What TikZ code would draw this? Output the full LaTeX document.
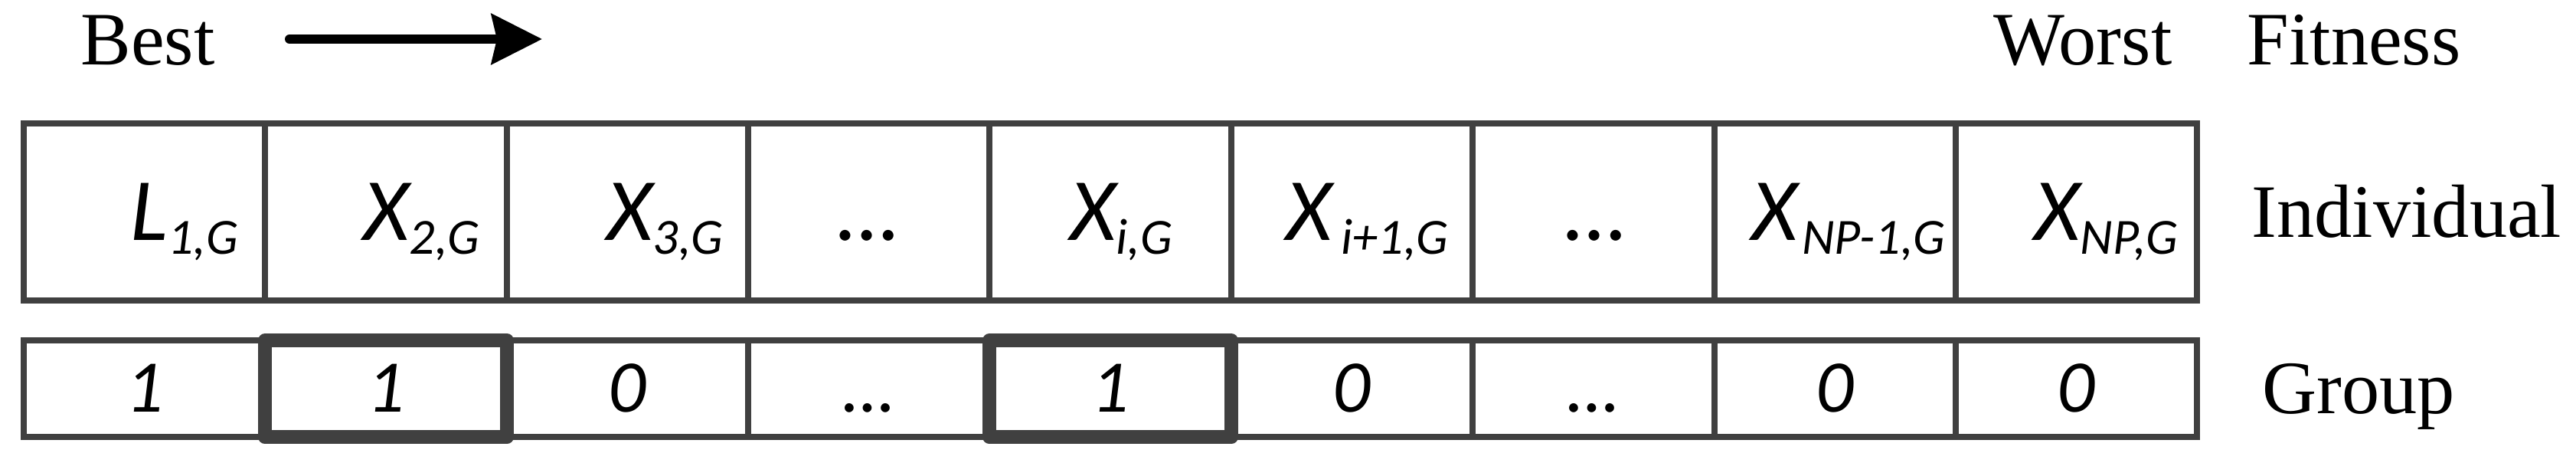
\documentclass[tikz,border=0pt]{standalone}
\usepackage{fontspec}
\setmainfont{Liberation Serif}
\newfontfamily\cellfont{Carlito}
\usetikzlibrary{positioning,arrows.meta}
\definecolor{boxgray}{HTML}{404040}
\newcommand{\subidx}[1]{\raisebox{-0.18cm}{\fontsize{18.8}{20}\selectfont #1}}

\begin{document}
\begin{tikzpicture}[cell/.style={draw=boxgray, line width=0.08cm, minimum width=3.1535cm, minimum height=2.31cm, inner sep=0pt, outer sep=0pt},
                    bit/.style={cell, minimum height=1.265cm},
                    picked/.style={line width=0.18cm, line join=round},
                    ind/.style={font=\cellfont\itshape\fontsize{33}{36}\selectfont, anchor=base, inner sep=0pt},
                    grp/.style={font=\cellfont\itshape\fontsize{27.6}{30}\selectfont, anchor=base, inner sep=0pt},
                    lbl/.style={font=\fontsize{28}{34}\selectfont, anchor=base, inner sep=0pt}]
                \useasboundingbox (0,0) rectangle (33.64,6.04);
                % Fitness order
                \node[lbl] (best) at (1.93,5.19) {Best};
                \node[lbl] (worst) at (27.2,5.19) {Worst};
                \node[lbl] (fit) at (30.74,5.19) {Fitness};
                \coordinate (a0) at (3.78,5.53);
                \coordinate (a1) at (7.08,5.53);
                \draw[line width=0.12cm, line cap=round, -{Stealth[length=0.66cm, width=0.65cm, inset=0.07cm]}] (a0) -- (a1);
                % Individual row
                \node[cell] (c1) at (1.887,3.275) {};
                \node[cell, right=0pt of c1] (c2) {};
                \node[cell, right=0pt of c2] (c3) {};
                \node[cell, right=0pt of c3] (c4) {};
                \node[cell, right=0pt of c4] (c5) {};
                \node[cell, right=0pt of c5] (c6) {};
                \node[cell, right=0pt of c6] (c7) {};
                \node[cell, right=0pt of c7] (c8) {};
                \node[cell, right=0pt of c8] (c9) {};
                \node[ind] (x1) at ([xshift=0.52cm, yshift=-0.375cm]c1.center) {L\subidx{1,G}};
                \node[ind] (x2) at ([xshift=0.465cm, yshift=-0.375cm]c2.center) {X\subidx{2,G}};
                \node[ind] (x3) at ([xshift=0.49cm, yshift=-0.375cm]c3.center) {X\subidx{3,G}};
                \node[ind] (x4) at ([yshift=-0.375cm]c4.center) {…};
                \node[ind] (x5) at ([xshift=0.14cm, yshift=-0.375cm]c5.center) {X\subidx{i,G}};
                \node[ind] (x6) at ([xshift=0.2cm, yshift=-0.375cm]c6.center) {X\hspace{0.12cm}\subidx{i+1,G}};
                \node[ind] (x7) at ([xshift=0.04cm, yshift=-0.375cm]c7.center) {…};
                \node[ind] (x8) at ([xshift=0.18cm, yshift=-0.375cm]c8.center) {X\hspace{0.05cm}\subidx{NP-1,G}};
                \node[ind] (x9) at ([xshift=0.39cm, yshift=-0.375cm]c9.center) {X\subidx{NP,G}};
                \node[lbl, anchor=base west] (indiv) at (29.40,2.945) {Individual};
                % Group row
                \node[bit] (g1) at (1.887,0.9675) {};
                \node[bit, picked, right=0pt of g1] (g2) {};
                \node[bit, right=0pt of g2] (g3) {};
                \node[bit, right=0pt of g3] (g4) {};
                \node[bit, picked, right=0pt of g4] (g5) {};
                \node[bit, right=0pt of g5] (g6) {};
                \node[bit, right=0pt of g6] (g7) {};
                \node[bit, right=0pt of g7] (g8) {};
                \node[bit, right=0pt of g8] (g9) {};
                \node[grp] (b1) at ([yshift=-0.305cm]g1.center) {1};
                \node[grp] (b2) at ([yshift=-0.305cm]g2.center) {1};
                \node[grp] (b3) at ([yshift=-0.305cm]g3.center) {0};
                \node[grp] (b4) at ([yshift=-0.305cm]g4.center) {…};
                \node[grp] (b5) at ([yshift=-0.305cm]g5.center) {1};
                \node[grp] (b6) at ([yshift=-0.305cm]g6.center) {0};
                \node[grp] (b7) at ([yshift=-0.305cm]g7.center) {…};
                \node[grp] (b8) at ([yshift=-0.305cm]g8.center) {0};
                \node[grp] (b9) at ([yshift=-0.305cm]g9.center) {0};
                \node[lbl, anchor=base west] (group) at (29.54,0.64) {Group};
            \end{tikzpicture}
\end{document}
